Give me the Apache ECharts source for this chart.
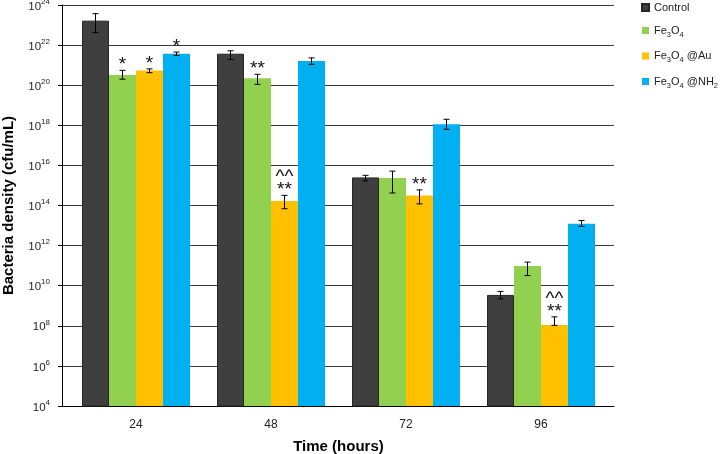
<!DOCTYPE html>
<html><head><meta charset="utf-8">
<script src="https://cdn.jsdelivr.net/npm/echarts@6/dist/echarts.min.js"></script>
<style>html,body{margin:0;padding:0;background:#fff}#c{width:722px;height:454px}</style>
</head><body><div id="c"></div>
<script>
// ---- data (cfu/mL) ----
const categories = ['24', '48', '72', '96'];
const seriesNames = ['Control', 'Fe3O4', 'Fe3O4 @Au', 'Fe3O4 @NH2'];
const yTickExponents = [4, 6, 8, 10, 12, 14, 16, 18, 20, 22, 24];

const controlValues = [1.66e23, 3.72e21, 2.51e15, 3.47e9];
const fe3o4Values   = [3.24e20, 2.24e20, 2.34e15, 9.55e10];
const auValues      = [5.37e20, 1.66e14, 3.16e14, 1.10e8];
const nh2Values     = [3.72e21, 1.62e21, 1.12e18, 1.23e13];

const controlHigh = [3.7e23, 5.2e21, 3.2e15, 5.2e9];
const controlLow  = [4.2e22, 1.9e21, 1.7e15, 2.2e9];
const fe3o4High   = [5.5e20, 3.5e20, 5.2e15, 1.5e11];
const fe3o4Low    = [2.0e20, 1.1e20, 4.2e14, 3.2e10];
const auHigh      = [6.5e20, 3.2e14, 6.0e14, 2.8e8];
const auLow       = [4.2e20, 6.9e13, 1.2e14, 1.05e8];
const nh2High     = [4.5e21, 2.3e21, 2.0e18, 1.8e13];
const nh2Low      = [3.1e21, 1.1e21, 6.3e17, 9.1e12];

const controlMarks = ['', '', '', ''];
const fe3o4Marks   = ['*', '**', '', ''];
const auMarks      = ['*', '^^\n**', '**', '^^\n**'];
const nh2Marks     = ['*', '', '', ''];

const colors = ['#3f3f3f', '#92d050', '#ffc000', '#00b0f0'];
// ---------------------

const values = [controlValues, fe3o4Values, auValues, nh2Values];
const highs = [controlHigh, fe3o4High, auHigh, nh2High];
const lows = [controlLow, fe3o4Low, auLow, nh2Low];
const marks = [controlMarks, fe3o4Marks, auMarks, nh2Marks];
const FONT = '"Liberation Sans", Arial, sans-serif';

function richName(name) {
  let out = '';
  const re = /([^0-9]+)|([0-9]+)/g;
  let m;
  while ((m = re.exec(name)) !== null) {
    if (m[1]) out += '{n|' + m[1] + '}';
    else out += '{s|' + m[2] + '}';
  }
  return out;
}

const BAR_FRAC = 0.2;
const series = [];
seriesNames.forEach((name, i) => {
  series.push({
    name: name,
    type: 'bar',
    xAxisIndex: 1, yAxisIndex: 1,
    barWidth: (BAR_FRAC * 100) + '%',
    barGap: '0%',
    itemStyle: i === 0 ? { color: colors[i], borderColor: '#262626', borderWidth: 1 } : { color: colors[i] },
    data: values[i],
    z: 2
  });
});
seriesNames.forEach((name, i) => {
  series.push({
    type: 'custom',
    xAxisIndex: 1, yAxisIndex: 1,
    z: 5,
    silent: true,
    encode: { x: 0, y: [1, 2] },
    data: categories.map((c, k) => [k, lows[i][k], highs[i][k]]),
    renderItem: function (params, api) {
      const k = api.value(0);
      const lo = api.value(1), hi = api.value(2);
      const c0 = api.coord([0, 1e10])[0], c1 = api.coord([1, 1e10])[0];
      const band = c1 - c0;
      const x = api.coord([k, hi])[0] + band * BAR_FRAC * (i - 1.5);
      const yHi = api.coord([k, hi])[1];
      const yLo = api.coord([k, lo])[1];
      const cap = 3;
      const st = { stroke: '#000', lineWidth: 1 };
      const children = [
        { type: 'line', shape: { x1: x, y1: yHi, x2: x, y2: yLo }, style: st },
        { type: 'line', shape: { x1: x - cap, y1: yHi, x2: x + cap, y2: yHi }, style: st },
        { type: 'line', shape: { x1: x - cap, y1: yLo, x2: x + cap, y2: yLo }, style: st }
      ];
      const txt = marks[i][params.dataIndex];
      if (txt) {
        children.push({
          type: 'text',
          style: {
            text: txt, x: x, y: yHi + 1,
            align: 'center', verticalAlign: 'bottom',
            font: '19px ' + FONT, lineHeight: 13, fill: '#111'
          }
        });
      }
      return { type: 'group', children: children };
    }
  });
});

const chart = echarts.init(document.getElementById('c'), null, { renderer: 'canvas' });
chart.setOption({
  animation: false,
  backgroundColor: '#fff',
  textStyle: { fontFamily: FONT },
  grid: [
    { left: 62, right: 108, top: 5, bottom: 48, containLabel: false, outerBoundsMode: 'none' },
    { left: 68.5, right: 113.5, top: 5, bottom: 48, containLabel: false, outerBoundsMode: 'none' }
  ],
  legend: {
    orient: 'vertical',
    left: 641, top: 2,
    padding: 0,
    itemWidth: 7, itemHeight: 7,
    itemGap: 12,
    icon: 'rect',
    selectedMode: false,
    data: seriesNames,
    formatter: richName,
    textStyle: {
      rich: {
        n: { fontSize: 11, lineHeight: 16, color: '#222', fontFamily: FONT },
        s: { fontSize: 7.5, lineHeight: 8, verticalAlign: 'bottom', color: '#222', fontFamily: FONT }
      }
    }
  },
  xAxis: [
    {
      gridIndex: 0, type: 'category', data: categories,
      axisLine: { show: true, lineStyle: { color: '#000', width: 1 } },
      axisTick: { show: false }, axisLabel: { show: false }, splitLine: { show: false }
    },
    {
      gridIndex: 1, type: 'category', data: categories,
      axisLine: { show: false }, axisTick: { show: false },
      axisLabel: { color: '#222', fontSize: 12, margin: 13 },
      name: 'Time (hours)', nameLocation: 'middle', nameGap: 33,
      nameTextStyle: { fontSize: 15, fontWeight: 'bold', color: '#000' }
    }
  ],
  yAxis: [
    {
      gridIndex: 0, type: 'log', logBase: 10, min: 1e4, max: 1e24, interval: 2,
      axisLine: { show: true, lineStyle: { color: '#000', width: 1 } },
      axisTick: { show: true, length: 4, inside: false, lineStyle: { color: '#000' } },
      splitLine: { show: true, lineStyle: { color: '#3a3a3a', width: 1 } },
      axisLabel: {
        margin: 12,
        formatter: function (v) {
          const e = Math.round(Math.log10(v));
          return '{b|10}{s|' + e + '}';
        },
        rich: {
          b: { fontSize: 11.5, lineHeight: 15, verticalAlign: 'bottom', color: '#222', fontFamily: FONT },
          s: { fontSize: 8, lineHeight: 8, verticalAlign: 'top', color: '#222', fontFamily: FONT }
        }
      },
      name: 'Bacteria density (cfu/mL)', nameLocation: 'middle', nameGap: 46, nameRotate: 90,
      nameTextStyle: { fontSize: 15, fontWeight: 'bold', color: '#000' }
    },
    {
      gridIndex: 1, type: 'log', logBase: 10, min: 1e4, max: 1e24, interval: 2,
      show: false, splitLine: { show: false }
    }
  ],
  series: series
});
</script>
</body></html>
